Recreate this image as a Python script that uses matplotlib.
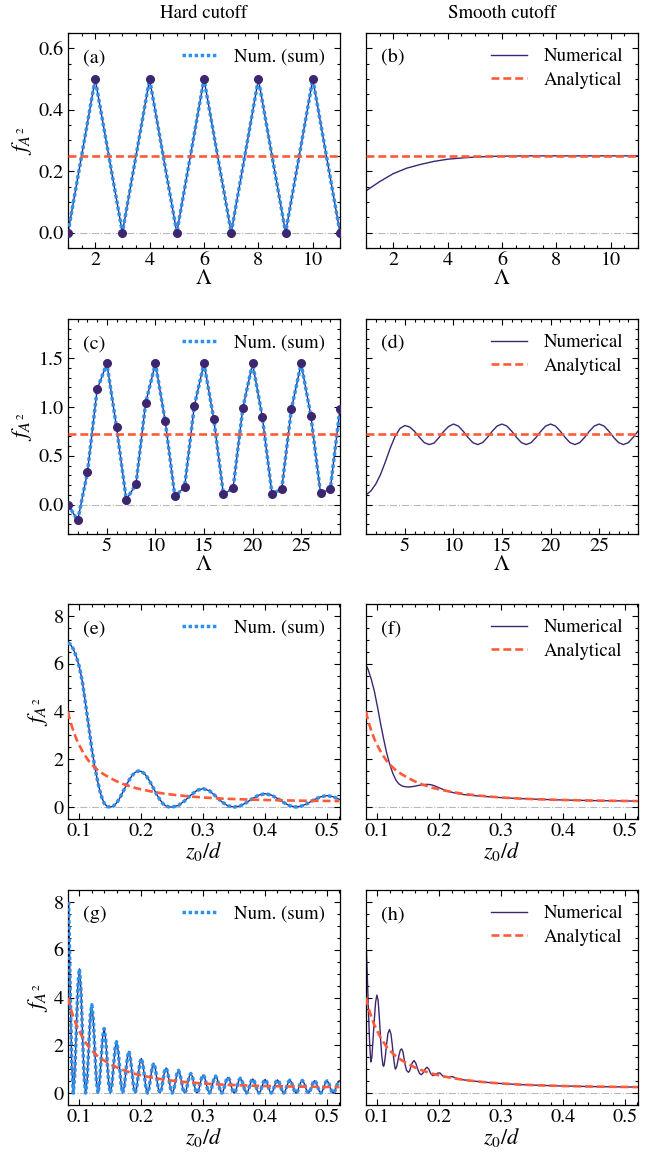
import matplotlib
matplotlib.use('Agg')
import matplotlib.pyplot as plt
from matplotlib.ticker import AutoMinorLocator
import numpy as np

plt.rcParams['font.family'] = 'STIXGeneral'
plt.rcParams['mathtext.fontset'] = 'stix'

# ---- data ----
# (a) hard cutoff, Lambda integer
lam_a = [1, 2, 3, 4, 5, 6, 7, 8, 9, 10, 11]
f_a = [0.0, 0.5, 0.0, 0.5, 0.0, 0.5, 0.0, 0.5, 0.0, 0.5, 0.0]
an_ab = 0.25

# (b) smooth cutoff
lam_b = [1, 1.5, 2, 2.5, 3, 3.5, 4, 4.5, 5, 5.5, 6, 7, 8, 9, 10, 11]
f_b = [0.136, 0.166, 0.192, 0.210, 0.222, 0.232, 0.239, 0.243, 0.246, 0.248, 0.249,
       0.25, 0.25, 0.25, 0.25, 0.25]

# (c) hard cutoff, Lambda integer
lam_c = list(range(1, 30))
f_c = [0.0, -0.16, 0.33, 1.18, 1.445, 0.79, 0.05, 0.21, 1.045, 1.445,
       0.86, 0.085, 0.18, 1.01, 1.445, 0.88, 0.105, 0.17, 0.99, 1.445,
       0.90, 0.11, 0.16, 0.98, 1.445, 0.91, 0.115, 0.16, 0.98]
an_cd = 0.72

# (d) smooth cutoff
lam_d = [1.0, 1.5, 2.0, 2.5, 3.0, 3.5, 4.0, 4.5, 5.0, 5.5, 6.0, 6.5, 7.0, 7.5, 8.0,
         8.5, 9.0, 9.5, 10.0, 10.5, 11.0, 11.5, 12.0, 12.5, 13.0, 13.5, 14.0, 14.5,
         15.0, 15.5, 16.0, 16.5, 17.0, 17.5, 18.0, 18.5, 19.0, 19.5, 20.0, 20.5,
         21.0, 21.5, 22.0, 22.5, 23.0, 23.5, 24.0, 24.5, 25.0, 25.5, 26.0, 26.5,
         27.0, 27.5, 28.0, 28.5, 29.0]
f_d = [0.10, 0.14, 0.21, 0.31, 0.44, 0.58, 0.70, 0.78, 0.81, 0.795, 0.75, 0.69,
       0.635, 0.615, 0.63, 0.685, 0.75, 0.80, 0.825, 0.805, 0.752, 0.688, 0.635,
       0.615, 0.635, 0.688, 0.752, 0.805, 0.825, 0.805, 0.752, 0.688, 0.635, 0.615,
       0.635, 0.688, 0.752, 0.805, 0.825, 0.805, 0.752, 0.688, 0.635, 0.615, 0.635,
       0.688, 0.752, 0.805, 0.825, 0.805, 0.752, 0.688, 0.635, 0.615, 0.635, 0.688,
       0.752]

# analytical curve vs z0/d (panels e-h)
z_an = [0.0815, 0.085, 0.09, 0.095, 0.10, 0.105, 0.11, 0.115, 0.12, 0.13, 0.14,
        0.15, 0.16, 0.17, 0.18, 0.19, 0.20, 0.22, 0.24, 0.26, 0.28, 0.30, 0.33,
        0.36, 0.40, 0.45, 0.52]
f_an = [4.0, 3.6, 3.2, 2.85, 2.58, 2.33, 2.12, 1.93, 1.78, 1.53, 1.36, 1.21, 1.08,
        0.97, 0.88, 0.80, 0.74, 0.63, 0.55, 0.49, 0.44, 0.40, 0.355, 0.325, 0.295,
        0.27, 0.25]

# (e) hard cutoff
z_e = [0.0815, 0.085, 0.09, 0.095, 0.10, 0.105, 0.11, 0.115, 0.12, 0.125, 0.13,
       0.135, 0.14, 0.145, 0.15, 0.155, 0.16, 0.165, 0.17, 0.175, 0.18, 0.185,
       0.19, 0.195, 0.20, 0.205, 0.21, 0.215, 0.22, 0.225, 0.23, 0.235, 0.24,
       0.245, 0.25, 0.26, 0.27, 0.28, 0.29, 0.30, 0.31, 0.32, 0.33, 0.34, 0.35,
       0.36, 0.37, 0.38, 0.39, 0.40, 0.41, 0.42, 0.43, 0.44, 0.45, 0.46, 0.47,
       0.48, 0.49, 0.50, 0.51, 0.52]
f_e = [6.88, 6.82, 6.62, 6.3, 5.85, 5.2, 4.3, 3.37, 2.42, 1.65, 1.0,
       0.48, 0.15, 0.02, 0.0, 0.04, 0.17, 0.37, 0.62, 0.88, 1.12, 1.32,
       1.45, 1.51, 1.49, 1.40, 1.23, 1.01, 0.77, 0.52, 0.31, 0.14, 0.04,
       0.005, 0.0, 0.07, 0.26, 0.5, 0.7, 0.77, 0.68, 0.46, 0.22, 0.05, 0.0,
       0.05, 0.19, 0.36, 0.5, 0.56, 0.5, 0.36, 0.19, 0.05, 0.0, 0.05, 0.17,
       0.32, 0.43, 0.48, 0.43, 0.32]

# (f) smooth cutoff
z_f = [0.0815, 0.085, 0.09, 0.095, 0.10, 0.105, 0.11, 0.115, 0.12, 0.125, 0.13,
       0.135, 0.14, 0.145, 0.15, 0.155, 0.16, 0.165, 0.17, 0.175, 0.18, 0.185,
       0.19, 0.195, 0.20, 0.21, 0.22, 0.23, 0.24, 0.26, 0.28, 0.30, 0.33, 0.36,
       0.40, 0.45, 0.52]
f_f = [5.95, 5.75, 5.35, 4.85, 4.2, 3.5, 2.85, 2.25, 1.78, 1.4, 1.12,
       0.96, 0.88, 0.85, 0.84, 0.85, 0.87, 0.9, 0.92, 0.94, 0.95, 0.94,
       0.91, 0.86, 0.8, 0.7, 0.62, 0.56, 0.52, 0.47, 0.43, 0.395, 0.355, 0.325,
       0.295, 0.27, 0.25]

# (g) hard cutoff, sampled every 0.0025 from 0.0825 to 0.52 (8 samples per row)
z_g = np.linspace(0.0825, 0.52, 176)
f_g = [8.0, 4.4, 1.2, 0.0, 0.8, 2.7, 4.5, 5.2,
       4.3, 2.4, 0.67, 0.0, 0.58, 1.95, 3.25, 3.7,
       3.03, 1.7, 0.47, 0.0, 0.43, 1.43, 2.37, 2.7,
       2.22, 1.25, 0.35, 0.0, 0.34, 1.11, 1.86, 2.15,
       1.79, 1.02, 0.28, 0.0, 0.27, 0.9, 1.51, 1.75,
       1.45, 0.83, 0.23, 0.0, 0.23, 0.75, 1.26, 1.45,
       1.21, 0.69, 0.2, 0.0, 0.19, 0.65, 1.08, 1.25,
       1.04, 0.59, 0.17, 0.0, 0.16, 0.54, 0.91, 1.05,
       0.88, 0.5, 0.14, 0.0, 0.14, 0.48, 0.81, 0.95,
       0.8, 0.46, 0.13, 0.0, 0.12, 0.41, 0.7, 0.82,
       0.69, 0.4, 0.12, 0.0, 0.11, 0.38, 0.65, 0.76,
       0.64, 0.37, 0.11, 0.0, 0.1, 0.36, 0.61, 0.71,
       0.6, 0.35, 0.1, 0.0, 0.1, 0.33, 0.56, 0.66,
       0.56, 0.32, 0.09, 0.0, 0.09, 0.31, 0.53, 0.62,
       0.53, 0.3, 0.09, 0.0, 0.09, 0.3, 0.5, 0.59,
       0.5, 0.29, 0.085, 0.0, 0.08, 0.28, 0.48, 0.57,
       0.48, 0.28, 0.08, 0.0, 0.08, 0.27, 0.47, 0.55,
       0.47, 0.27, 0.08, 0.0, 0.08, 0.27, 0.46, 0.54,
       0.46, 0.26, 0.08, 0.0, 0.08, 0.26, 0.45, 0.53,
       0.45, 0.26, 0.077, 0.0, 0.076, 0.26, 0.44, 0.52,
       0.44, 0.26, 0.076, 0.0, 0.075, 0.26, 0.44, 0.51,
       0.44, 0.25, 0.075, 0.0, 0.075, 0.25, 0.43, 0.51]

# (h) smooth cutoff
z_h = [0.0815, 0.0835, 0.0855, 0.0875, 0.0893, 0.091, 0.093, 0.095, 0.097, 0.099,
       0.101, 0.103, 0.105, 0.107, 0.109, 0.110, 0.111, 0.113, 0.115, 0.117,
       0.1195, 0.122, 0.124, 0.126, 0.128, 0.129, 0.131, 0.133, 0.135, 0.137,
       0.139, 0.141, 0.143, 0.145, 0.147, 0.150, 0.152, 0.154, 0.156, 0.159,
       0.162, 0.165, 0.168, 0.171, 0.174, 0.177, 0.180, 0.183, 0.186, 0.189,
       0.192, 0.195, 0.198, 0.201, 0.204, 0.207, 0.210, 0.214, 0.218, 0.222,
       0.226, 0.23, 0.24, 0.26, 0.28, 0.30, 0.33, 0.36, 0.40, 0.45, 0.52]
f_h = [6.4, 5.0, 3.4, 2.0, 1.3, 1.5, 2.3, 3.1, 3.8, 4.1,
       3.9, 3.2, 2.3, 1.55, 1.15, 1.12, 1.2, 1.6, 2.1, 2.5,
       2.66, 2.45, 2.0, 1.5, 1.1, 1.0, 1.1, 1.35, 1.6, 1.8,
       1.85, 1.75, 1.45, 1.15, 0.95, 0.87, 0.93, 1.1, 1.25, 1.36,
       1.25, 1.0, 0.82, 0.77, 0.85, 1.0, 1.08, 1.0, 0.82, 0.73,
       0.75, 0.8, 0.84, 0.84, 0.76, 0.68, 0.66, 0.67, 0.69, 0.68,
       0.63, 0.6, 0.55, 0.49, 0.44, 0.40, 0.355, 0.325, 0.295, 0.27, 0.25]

# ---- styling ----
purple = '#3d2670'
blue = '#2a93f0'
red = '#ff5a3a'
grey = '#b8b8b8'
dots = (0, (1, 0.75))
dashes = (0, (3.0, 1.5))
fs_tick = 14.5
fs_leg = 13.5

fig = plt.figure(figsize=(6.68, 11.53), dpi=100)
left = [68 / 668, 366 / 668]
w = 272 / 668
h = 215 / 1153
tops = [33, 319, 604, 890]
axes = []
for r, t in enumerate(tops):
    row = []
    for c in range(2):
        row.append(fig.add_axes([left[c], 1 - (t + 215) / 1153, w, h]))
    axes.append(row)


def style(ax, xlim, ylim, xt, yt, ytl, xlabel, show_y):
    ax.set_xlim(*xlim)
    ax.set_ylim(*ylim)
    ax.set_xticks(xt)
    ax.set_yticks(yt)
    ax.xaxis.set_minor_locator(AutoMinorLocator())
    ax.yaxis.set_minor_locator(AutoMinorLocator())
    ax.tick_params(which='both', direction='in', top=True, right=True,
                   labelsize=fs_tick, width=0.8)
    ax.tick_params(which='major', length=4, pad=3)
    ax.tick_params(which='minor', length=2)
    for s in ax.spines.values():
        s.set_linewidth(0.9)
    ax.set_xlabel(xlabel, fontsize=16, labelpad=0)
    if show_y:
        ax.set_yticklabels(ytl)
        ax.set_ylabel(r'$f_{A^2}$', fontsize=16.5, labelpad=3)
    else:
        ax.set_yticklabels([])
    ax.axhline(0, color=grey, lw=0.8, ls='-.', zorder=0)


def leg(ax):
    ax.legend(loc='upper right', frameon=False, fontsize=fs_leg, handlelength=1.9,
              borderaxespad=0.4, handletextpad=0.9, labelspacing=0.35)


def hard(ax, x, y, markers):
    ax.plot(x, y, color=purple, lw=1.0, zorder=2)
    ax.plot(x, y, color=blue, lw=2.5, ls=dots, label='Num. (sum)', zorder=3)
    if markers:
        ax.plot(x, y, 'o', color=purple, ms=5.5, zorder=4)
    leg(ax)


def smooth(ax, x, y, an_line):
    ax.plot(x, y, color=purple, lw=1.0, label='Numerical', zorder=2)
    an_line(ax)
    leg(ax)


def hline(val):
    return lambda ax: ax.axhline(val, color=red, lw=1.9, ls=dashes, label='Analytical',
                                 zorder=3)


def zcurve(ax, label='Analytical'):
    ax.plot(z_an, f_an, color=red, lw=1.9, ls=dashes, label=label, zorder=3)


# row 1
ax = axes[0][0]
hard(ax, lam_a, f_a, True)
ax.axhline(an_ab, color=red, lw=1.9, ls=dashes, zorder=3)
style(ax, (1, 11), (-0.05, 0.65), [2, 4, 6, 8, 10], [0, 0.2, 0.4, 0.6],
      ['0.0', '0.2', '0.4', '0.6'], r'$\Lambda$', True)
ax = axes[0][1]
smooth(ax, lam_b, f_b, hline(an_ab))
style(ax, (1, 11), (-0.05, 0.65), [2, 4, 6, 8, 10], [0, 0.2, 0.4, 0.6],
      None, r'$\Lambda$', False)

# row 2
ax = axes[1][0]
hard(ax, lam_c, f_c, True)
ax.axhline(an_cd, color=red, lw=1.9, ls=dashes, zorder=3)
style(ax, (1, 29), (-0.3, 1.9), [5, 10, 15, 20, 25], [0, 0.5, 1.0, 1.5],
      ['0.0', '0.5', '1.0', '1.5'], r'$\Lambda$', True)
ax = axes[1][1]
smooth(ax, lam_d, f_d, hline(an_cd))
style(ax, (1, 29), (-0.3, 1.9), [5, 10, 15, 20, 25], [0, 0.5, 1.0, 1.5],
      None, r'$\Lambda$', False)

# rows 3-4
zt = [0.1, 0.2, 0.3, 0.4, 0.5]
yt = [0, 2, 4, 6, 8]
for r, (zh, fh, zs, fs) in enumerate([(z_e, f_e, z_f, f_f), (z_g, f_g, z_h, f_h)]):
    ax = axes[r + 2][0]
    hard(ax, zh, fh, False)
    zcurve(ax, label='_nolegend_')
    style(ax, (0.0815, 0.521), (-0.5, 8.5), zt, yt, ['0', '2', '4', '6', '8'],
          r'$z_0/d$', True)
    ax = axes[r + 2][1]
    smooth(ax, zs, fs, zcurve)
    style(ax, (0.0815, 0.521), (-0.5, 8.5), zt, yt, None, r'$z_0/d$', False)

labels = 'abcdefgh'
for r in range(4):
    for c in range(2):
        axes[r][c].text(0.055, 0.885, '(%s)' % labels[2 * r + c],
                        transform=axes[r][c].transAxes, fontsize=fs_tick, va='center')

axes[0][0].set_title('Hard cutoff', fontsize=13.5, pad=11)
axes[0][1].set_title('Smooth cutoff', fontsize=13.5, pad=11)

fig.savefig('out.png', dpi=100)
